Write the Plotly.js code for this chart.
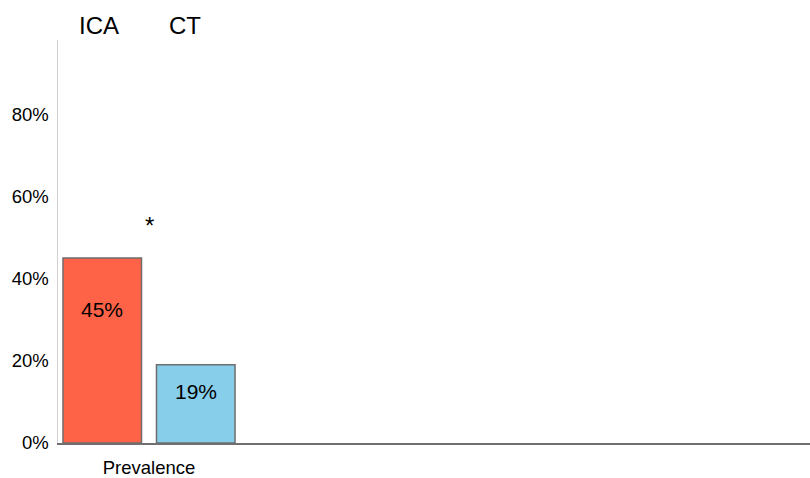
<!DOCTYPE html>
<html>
<head>
<meta charset="utf-8">
<script src="https://cdn.plot.ly/plotly-3.0.1.min.js"></script>
<style>
html,body{margin:0;padding:0;background:#fff;}
#chart{width:810px;height:478px;}
</style>
</head>
<body>
<div id="chart"></div>
<script>
var categories = ["Prevalence"];
var seriesNames = ["ICA", "CT"];
var icaValues = [45];
var ctValues = [19];
var tickValues = [0, 20, 40, 60, 80];
var tickLabels = ["0%", "20%", "40%", "60%", "80%"];
var significance = "*";

var catIdx = categories.map(function(c, i){ return i; });
var FONT = "Liberation Sans, Arial, sans-serif";

var traces = [
  {type: "bar", name: seriesNames[0], x: catIdx, y: icaValues,
   marker: {color: "#FF6347", line: {color: "rgb(110,110,110)", width: 1.5}},
   hoverinfo: "skip"},
  {type: "bar", name: seriesNames[1], x: catIdx, y: ctValues,
   marker: {color: "#87CEEB", line: {color: "rgb(110,110,110)", width: 1.5}},
   hoverinfo: "skip"}
];

var annotations = [];
var halfSlot = 0.234;
catIdx.forEach(function(i){
  annotations.push({x: i - halfSlot, y: icaValues[i] * 0.72, xref: "x", yref: "y",
    xanchor: "center", yanchor: "middle",
    text: icaValues[i] + "%", showarrow: false, font: {family: FONT, size: 21, color: "#000"}});
  annotations.push({x: i + halfSlot, y: ctValues[i] * 0.66, xref: "x", yref: "y",
    xanchor: "center", yanchor: "middle",
    text: ctValues[i] + "%", showarrow: false, font: {family: FONT, size: 21, color: "#000"}});
  annotations.push({x: i, y: 53, xref: "x", yref: "y", text: significance, showarrow: false,
    xanchor: "center", yanchor: "middle",
    font: {family: FONT, size: 24, color: "#000"}});
});
annotations.push({x: 0.0545, y: 1.037, xref: "paper", yref: "paper", text: seriesNames[0],
  xanchor: "center", yanchor: "middle",
  showarrow: false, font: {family: FONT, size: 24, color: "#000"}});
annotations.push({x: 0.1695, y: 1.037, xref: "paper", yref: "paper", text: seriesNames[1],
  xanchor: "center", yanchor: "middle",
  showarrow: false, font: {family: FONT, size: 24, color: "#000"}});

var layout = {
  width: 810, height: 478,
  margin: {l: 58, r: 0, t: 40, b: 35},
  paper_bgcolor: "#fff", plot_bgcolor: "#fff",
  barmode: "group", bargap: 0.065, bargroupgap: 0.16,
  showlegend: false,
  xaxis: {
    range: [-0.455, 3.305], tickvals: catIdx, ticktext: categories,
    showgrid: false, zeroline: false, showline: true, linecolor: "#707070", linewidth: 1.5,
    ticks: "", tickfont: {family: FONT, size: 18.5, color: "#000"}, ticklabelstandoff: 7
  },
  yaxis: {
    range: [0, 98], tickvals: tickValues, ticktext: tickLabels,
    showgrid: false, zeroline: false, showline: true, linecolor: "#d0d0d0", linewidth: 1.5,
    ticks: "", tickfont: {family: FONT, size: 18.5, color: "#000"}, ticklabelstandoff: 4
  },
  annotations: annotations
};

Plotly.newPlot("chart", traces, layout, {displayModeBar: false, staticPlot: true});
</script>
</body>
</html>
